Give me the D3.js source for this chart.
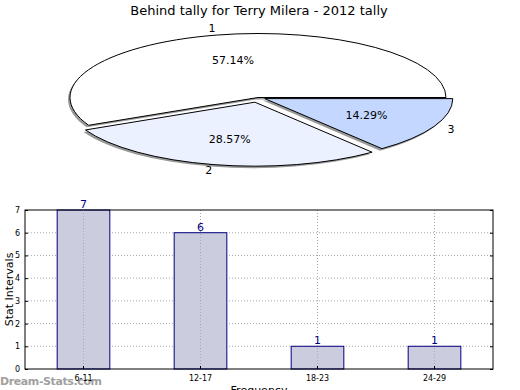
<!DOCTYPE html>
<html>
<head>
<meta charset="utf-8">
<script src="https://cdn.jsdelivr.net/npm/d3@7"></script>
<style>
  body { margin: 0; background: #fff; }
  text { font-family: "DejaVu Sans", sans-serif; }
</style>
</head>
<body>
<div id="chart"></div>
<script>
// pie data
const pieLabels = ["1", "2", "3"]
const pieValues = [4, 2, 1]
const piePct = ["57.14%", "28.57%", "14.29%"]
const pieExplode = [0, 0.075, 0.04]
const pieColors = ["#ffffff", "#ebf1ff", "#c4d8ff"]

// bar data
const categories = ["6-11", "12-17", "18-23", "24-29"]
const counts = [7, 6, 1, 1]
const yTicks = [0, 1, 2, 3, 4, 5, 6, 7]

const W = 520, H = 390

const svg = d3.select("#chart")
  .append("svg")
  .attr("width", W)
  .attr("height", H)

// title
svg.append("text")
  .attr("x", 259)
  .attr("y", 15)
  .attr("text-anchor", "middle")
  .style("font-size", "13px")
  .text("Behind tally for Terry Milera - 2012 tally")

// ---- pie ----
const cx = 258, cy = 97.5, R = 188, RY = 64
const sy = RY / R

const pie = d3.pie().sort(null)
  .startAngle(Math.PI / 2)
  .endAngle(Math.PI / 2 - 2 * Math.PI)
const arcs = pie(pieValues)
const arc = d3.arc().innerRadius(0).outerRadius(R)

const offset = (d, i) => {
  const a = (d.startAngle + d.endAngle) / 2
  return [Math.sin(a) * pieExplode[i] * R, -Math.cos(a) * pieExplode[i] * R]
}

const pieG = svg.append("g")
  .attr("transform", `translate(${cx},${cy}) scale(1,${sy})`)

// shadows
pieG.selectAll(".shadow")
  .data(arcs)
  .join("path")
    .attr("class", "shadow")
    .attr("d", arc)
    .attr("transform", (d, i) => {
      const o = offset(d, i)
      return `translate(${o[0] - 2},${o[1] + 2 / sy})`
    })
    .attr("fill", "#999")

pieG.selectAll(".slice")
  .data(arcs)
  .join("path")
    .attr("class", "slice")
    .attr("d", arc)
    .attr("transform", (d, i) => {
      const o = offset(d, i)
      return `translate(${o[0]},${o[1]})`
    })
    .attr("fill", (d, i) => pieColors[i])
    .attr("stroke", "#000")
    .attr("stroke-width", 1)
    .attr("vector-effect", "non-scaling-stroke")

const labelPos = (d, i, r) => {
  const a = (d.startAngle + d.endAngle) / 2
  const o = offset(d, i)
  return [cx + o[0] + Math.sin(a) * r * R, cy + (o[1] - Math.cos(a) * r * R) * sy]
}

svg.selectAll(".plabel")
  .data(arcs)
  .join("text")
    .attr("class", "plabel")
    .attr("x", (d, i) => labelPos(d, i, 1.1)[0])
    .attr("y", (d, i) => labelPos(d, i, 1.1)[1])
    .attr("text-anchor", "middle")
    .attr("dominant-baseline", "central")
    .style("font-size", "11px")
    .text((d, i) => pieLabels[i])

svg.selectAll(".pct")
  .data(arcs)
  .join("text")
    .attr("class", "pct")
    .attr("x", (d, i) => labelPos(d, i, 0.6)[0])
    .attr("y", (d, i) => labelPos(d, i, 0.6)[1])
    .attr("text-anchor", "middle")
    .attr("dominant-baseline", "central")
    .style("font-size", "11px")
    .text((d, i) => piePct[i])

// ---- bar chart ----
const pLeft = 25, pRight = 493, pTop = 210, pBottom = 369

const x = d3.scaleBand()
  .domain(categories)
  .range([pLeft, pRight])
  .paddingInner(0.55)
  .paddingOuter(0.275)

const y = d3.scaleLinear()
  .domain([0, 7])
  .range([pBottom, pTop])

// horizontal grid
svg.append("g")
  .selectAll("line")
  .data(yTicks.slice(1, -1))
  .join("line")
    .attr("x1", pLeft).attr("x2", pRight)
    .attr("y1", d => y(d)).attr("y2", d => y(d))
    .attr("stroke", "#aaa")
    .attr("stroke-dasharray", "1,2")

// bars
svg.append("g")
  .selectAll("rect")
  .data(counts)
  .join("rect")
    .attr("x", (d, i) => x(categories[i]))
    .attr("y", d => y(d))
    .attr("width", x.bandwidth())
    .attr("height", d => y(0) - y(d))
    .attr("fill", "#ccccdf")
    .attr("stroke", "#000080")
    .attr("stroke-width", 1)

// vertical grid
svg.append("g")
  .selectAll("line")
  .data(categories)
  .join("line")
    .attr("x1", d => x(d) + x.bandwidth() / 2)
    .attr("x2", d => x(d) + x.bandwidth() / 2)
    .attr("y1", pTop).attr("y2", pBottom)
    .attr("stroke", "#aaa")
    .attr("stroke-dasharray", "1,2")

// frame
svg.append("rect")
  .attr("x", pLeft).attr("y", pTop)
  .attr("width", pRight - pLeft).attr("height", pBottom - pTop)
  .attr("fill", "none")
  .attr("stroke", "#000")

// y axis
svg.append("g")
  .attr("transform", `translate(${pLeft},0)`)
  .call(d3.axisLeft(y).tickValues(yTicks).tickFormat(d3.format("d")).tickSize(-3).tickPadding(5))
  .call(g => g.select(".domain").remove())
  .call(g => g.selectAll("text").style("font-size", "8px").attr("font-family", "DejaVu Sans"))

svg.append("g")
  .attr("transform", `translate(${pRight},0)`)
  .call(d3.axisRight(y).tickValues(yTicks).tickSize(-3).tickFormat(""))
  .call(g => g.select(".domain").remove())

// watermark (sits under the tick labels)
svg.append("text")
  .attr("x", 0)
  .attr("y", 385)
  .attr("fill", "#a0a0a0")
  .attr("textLength", 102)
  .style("font-size", "11px")
  .style("font-weight", "bold")
  .text("Dream-Stats.com")

// x axis
svg.append("g")
  .attr("transform", `translate(0,${pBottom})`)
  .call(d3.axisBottom(x).tickSize(-3).tickPadding(6))
  .call(g => g.select(".domain").remove())
  .call(g => g.selectAll("text").style("font-size", "8px").attr("font-family", "DejaVu Sans"))

// value labels
svg.append("g")
  .selectAll("text")
  .data(counts)
  .join("text")
    .attr("x", (d, i) => x(categories[i]) + x.bandwidth() / 2)
    .attr("y", d => y(d) - 2)
    .attr("text-anchor", "middle")
    .attr("fill", "#000080")
    .style("font-size", "11px")
    .text(d => d)

// axis labels
svg.append("text")
  .attr("transform", `translate(13,${(pTop + pBottom) / 2}) rotate(-90)`)
  .attr("text-anchor", "middle")
  .style("font-size", "11px")
  .text("Stat Intervals")

svg.append("text")
  .attr("x", 259)
  .attr("y", 394)
  .attr("text-anchor", "middle")
  .style("font-size", "11px")
  .text("Frequency")
</script>
</body>
</html>
